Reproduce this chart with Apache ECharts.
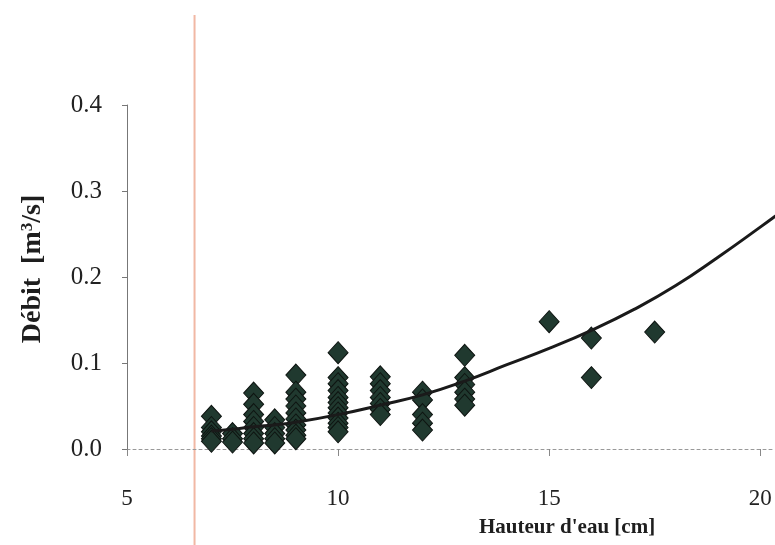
<!DOCTYPE html>
<html>
<head>
<meta charset="utf-8">
<script src="https://cdn.jsdelivr.net/npm/echarts@6/dist/echarts.min.js"></script>
<style>
html,body{margin:0;padding:0;background:#fff;}
#chart{width:775px;height:545px;}
</style>
</head>
<body>
<div id="chart"></div>
<script>
// Measured points: water height [cm] and discharge [m3/s]
var obsHeight = [
  7,7,7,7,7,7,
  7.5,7.5,7.5,
  8,8,8,8,8,8,8,8,
  8.5,8.5,8.5,8.5,8.5,
  9,9,9,9,9,9,9,9,9,9,
  10,10,10,10,10,10,10,10,10,10,10,10,
  11,11,11,11,11,11,11,
  12,12,12,12,12,
  13,13,13,13,13,13,
  15,16,16,17.5
];
var obsFlow = [
  0.038,0.025,0.020,0.015,0.012,0.009,
  0.018,0.012,0.008,
  0.065,0.052,0.040,0.032,0.025,0.018,0.012,0.007,
  0.034,0.025,0.018,0.012,0.007,
  0.086,0.066,0.058,0.050,0.042,0.035,0.028,0.022,0.016,0.012,
  0.112,0.083,0.076,0.068,0.060,0.054,0.048,0.042,0.036,0.030,0.025,0.020,
  0.084,0.076,0.068,0.060,0.053,0.046,0.040,
  0.066,0.057,0.040,0.030,0.022,
  0.109,0.083,0.075,0.066,0.058,0.051,
  0.148,0.129,0.083,0.136
];
// Fitted rating curve
var curveHeight = [7, 7.5, 8, 8.5, 9, 10, 11, 12, 13, 14, 15, 16, 17, 18, 19, 20, 20.5];
var curveFlow   = [0.021,0.023,0.026,0.028,0.031,0.040,0.051,0.063,0.079,0.098,0.117,0.138,0.162,0.190,0.223,0.258,0.276];
var xTicks = [5, 10, 15, 20];
var yTicks = [0.0, 0.1, 0.2, 0.3, 0.4];

var scatterData = obsHeight.map(function(h, i){ return [h, obsFlow[i]]; });
var curveData = curveHeight.map(function(h, i){ return [h, curveFlow[i]]; });

var serif = '"Liberation Serif", "DejaVu Serif", serif';
var chart = echarts.init(document.getElementById('chart'), null, {renderer: 'canvas'});
chart.setOption({
  backgroundColor: '#ffffff',
  animation: false,
  title: {
    text: "Hauteur d'eau [cm]",
    left: 474, top: 512,
    textStyle: {fontFamily: serif, fontWeight: 'bold', fontSize: 21, color: '#1e1e1e'}
  },
  grid: {left: 127, right: 0, top: 105, bottom: 96, containLabel: false},
  xAxis: {
    type: 'value', min: 5, max: 20.35, interval: 5,
    axisLine: {show: true, lineStyle: {color: '#999', width: 1, type: [3, 3]}},
    axisTick: {show: true, inside: false, length: 7, lineStyle: {color: '#888'}},
    axisLabel: {
      showMaxLabel: false, margin: 38,
      fontFamily: serif, fontSize: 23, color: '#222',
      formatter: function(v){ return xTicks.indexOf(v) >= 0 ? String(v) : ''; }
    },
    splitLine: {show: false}
  },
  yAxis: {
    type: 'value', min: 0, max: 0.4, interval: 0.1,
    name: '{t|Débit  [m}{s|3}{t|/s]}', nameLocation: 'middle', nameGap: 80, nameRotate: 90,
    nameTextStyle: {
      fontFamily: serif, fontWeight: 'bold', fontSize: 28, color: '#1e1e1e',
      padding: [0, 0, 0, 16],
      rich: {
        t: {fontFamily: serif, fontWeight: 'bold', fontSize: 28, color: '#1e1e1e'},
        s: {fontFamily: serif, fontWeight: 'bold', fontSize: 17, color: '#1e1e1e', verticalAlign: 'top', padding: [0, 0, 10, 0]}
      }
    },
    axisLine: {show: true, lineStyle: {color: '#777', width: 1}},
    axisTick: {show: true, length: 5, lineStyle: {color: '#777'}},
    axisLabel: {
      margin: 25, fontFamily: serif, fontSize: 25, color: '#222',
      formatter: function(v){ return v.toFixed(1); }
    },
    splitLine: {show: false}
  },
  series: [
    {
      type: 'scatter', data: scatterData, symbol: 'diamond', symbolSize: [20, 22],
      itemStyle: {color: '#20392f', borderColor: '#0e1411', borderWidth: 1, opacity: 1},
      z: 2
    },
    {
      type: 'line', data: curveData, smooth: true, showSymbol: false,
      lineStyle: {color: '#1a1a1a', width: 3}, z: 3
    }
  ]
});

// decorative vertical margin line of the scanned page
var px = chart.convertToPixel({gridIndex: 0}, [6.6, 0]);
chart.setOption({
  graphic: [{
    type: 'line', silent: true, z: 0,
    shape: {x1: px[0], y1: 15, x2: px[0], y2: 545},
    style: {stroke: '#f1b8a4', lineWidth: 2}
  }]
});
</script>
</body>
</html>
